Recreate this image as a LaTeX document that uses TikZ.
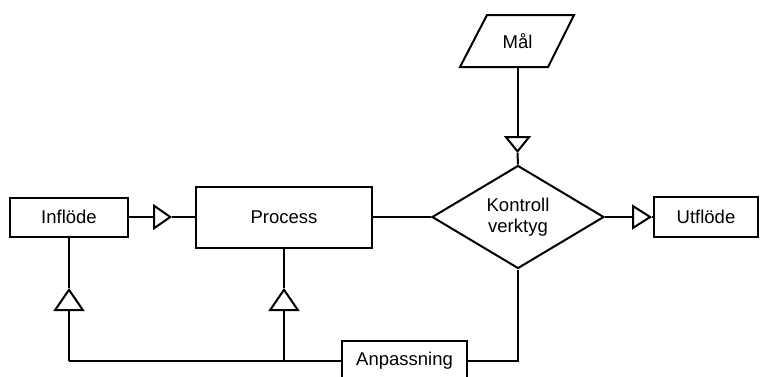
\documentclass[tikz,border=0pt]{standalone}
\usepackage{fontspec}
\setmainfont{Liberation Sans}
\usetikzlibrary{arrows.meta,shapes.geometric,calc}
\begin{document}
\begin{tikzpicture}[x=1pt,y=-1pt,
  every node/.style={font=\fontsize{18.5}{21}\selectfont, inner sep=0pt},
  box/.style={draw, line width=2pt, rectangle, fill=white},
  ln/.style={line width=2pt},
]
\useasboundingbox (0,0) rectangle (760,376);
\clip (0,0) rectangle (760,376);

% nodes
\node[box, minimum width=118pt, minimum height=39pt] (infl) at (69,217) {Inflöde};
\node[box, minimum width=176pt, minimum height=61pt] (proc) at (284,217) {Process};
\node[diamond, draw, line width=2pt, minimum width=172pt, minimum height=103pt, align=center] (ctrl) at (518,217) {Kontroll\\verktyg};
\node[box, minimum width=104pt, minimum height=40pt] (utfl) at (706,217) {Utflöde};
\node[box, minimum width=125pt, minimum height=40pt] (anp) at (404.5,361) {Anpassning};
\node[minimum width=60pt, minimum height=52pt] (mal) at (517.5,41) {Mål};
\draw[ln, line join=miter] (487,15) -- (574,15) -- (548,67) -- (460,67) -- cycle;

% tip coordinates
\coordinate (t1) at (172,217);
\coordinate (t2) at (517.5,153);
\coordinate (t3) at (652,217);
\coordinate (t4) at (69,288);
\coordinate (t5) at (284,288);
\coordinate (jl) at (infl.south |- anp.west);
\coordinate (jp) at (proc.south |- anp.west);
\coordinate (jc) at (ctrl.south |- anp.east);

% connectors
\draw[ln, -{Triangle[open,fill=white,length=19pt,width=26pt]}] (infl.east) -- (t1);
\draw[ln] (t1) -- (proc.west);
\draw[ln] (proc.east) -- (ctrl.west);
\draw[ln, -{Triangle[open,fill=white,length=17pt,width=27pt]}] (mal.south) -- (t2);
\draw[ln] (t2) -- (ctrl.north);
\draw[ln, -{Triangle[open,fill=white,length=20pt,width=25pt]}] (ctrl.east) -- (t3);
\draw[ln] (t3) -- (utfl.west);
\draw[ln] (ctrl.south) -- (jc) -- (anp.east);
\draw[ln] (anp.west) -- (jl);
\draw[ln, -{Triangle[open,fill=white,length=23pt,width=31pt]}] (jl) -- (t4);
\draw[ln] (t4) -- (infl.south);
\draw[ln, -{Triangle[open,fill=white,length=23pt,width=31pt]}] (jp) -- (t5);
\draw[ln] (t5) -- (proc.south);
\end{tikzpicture}
\end{document}
